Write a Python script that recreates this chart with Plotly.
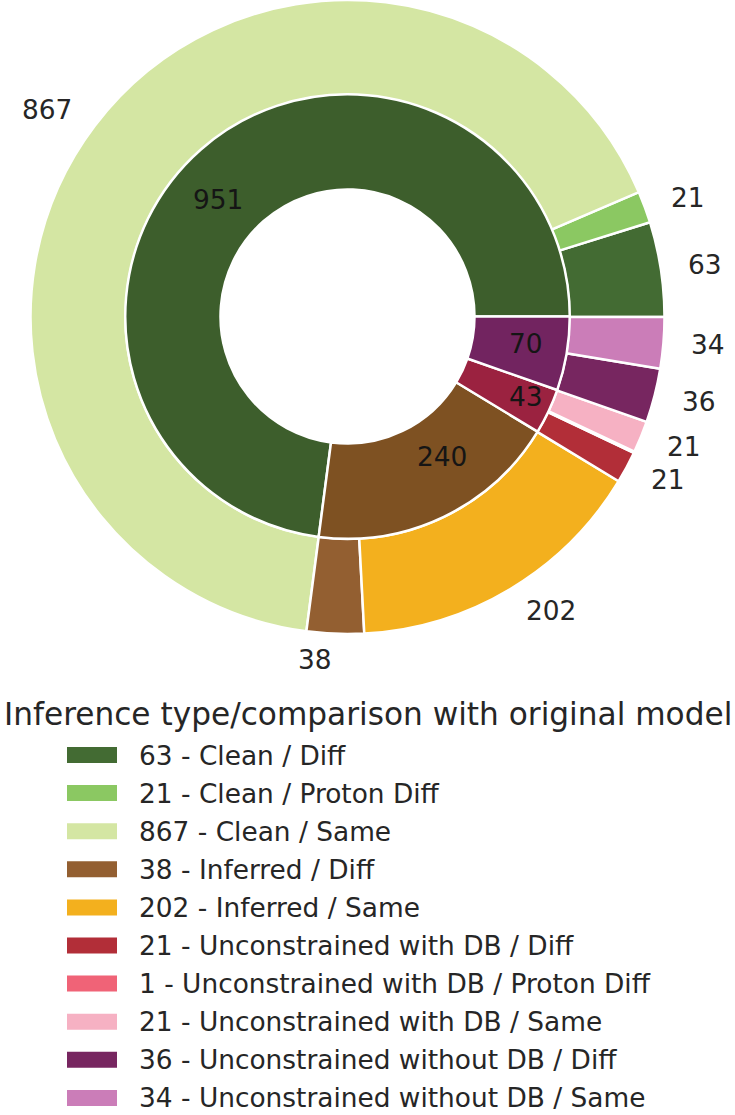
import numpy as np
import plotly.graph_objects as go

# ---- data ----
inner_labels = ["Clean", "Inferred", "Unconstrained with DB", "Unconstrained without DB"]
inner_values = [951, 240, 43, 70]
inner_colors = ["#3d5e2c", "#7e5122", "#9b2240", "#722460"]

outer_labels = ["Clean / Diff", "Clean / Proton Diff", "Clean / Same",
                "Inferred / Diff", "Inferred / Same",
                "Unconstrained with DB / Diff", "Unconstrained with DB / Proton Diff",
                "Unconstrained with DB / Same",
                "Unconstrained without DB / Diff", "Unconstrained without DB / Same"]
outer_values = [63, 21, 867, 38, 202, 21, 1, 21, 36, 34]
outer_colors = ["#436b33", "#8bc862", "#d4e6a3", "#935f31", "#f3b01e",
                "#b22e38", "#f06377", "#f6b1c3", "#772660", "#cb7db8"]
outer_show_label = [True, True, True, True, True, True, False, True, True, True]

legend_title = "Inference type/comparison with original model"

# ---- layout / style (pixels) ----
W, H = 735, 1115
CX, CY = 347.5, 316.5      # centre, from top
R = 317.5
FONT = "DejaVu Sans"
TXT = "#262626"
LABEL_SIZE = 26.4
TITLE_SIZE = 31.2
OUTER_LABEL_DIST = 1.08                        # fraction of R
INNER_LABEL_DIST = [0.49, 0.49, 0.555, 0.51]   # fraction of R, per inner wedge
INNER_LABEL_DY = [0, 0, 5, 0]                  # small vertical nudges (px)


def px(x):
    return x / W


def py(y):
    return 1 - y / H


def dom(r):
    return dict(x=[px(CX - r), px(CX + r)],
                y=[max(0, py(CY + r)), min(1, py(CY - r))])


def start_rotation(values):
    # plotly (counterclockwise) places the first slice clockwise of `rotation`;
    # shift so the first slice starts at 3 o'clock and runs counterclockwise
    return 90 - 360.0 * values[0] / sum(values)


fig = go.Figure()
fig.add_trace(go.Pie(values=outer_values, labels=outer_labels, sort=False,
                     direction="counterclockwise", rotation=start_rotation(outer_values),
                     hole=0.7, domain=dom(R), textinfo="none", hoverinfo="label+value",
                     marker=dict(colors=outer_colors, line=dict(color="white", width=2.5)),
                     showlegend=False))
fig.add_trace(go.Pie(values=inner_values, labels=inner_labels, sort=False,
                     direction="counterclockwise", rotation=start_rotation(inner_values),
                     hole=0.4 / 0.7, domain=dom(0.7 * R), textinfo="none",
                     hoverinfo="label+value",
                     marker=dict(colors=inner_colors, line=dict(color="white", width=2.5)),
                     showlegend=False))

annotations = []


def wedge_labels(values, radii, dys, show, color):
    vals = np.asarray(values, float)
    cum = np.concatenate([[0], np.cumsum(vals)]) / vals.sum() * 2 * np.pi
    mids = (cum[:-1] + cum[1:]) / 2
    for v, a, rr, dy, s in zip(values, mids, radii, dys, show):
        if not s:
            continue
        x = CX + rr * R * np.cos(a)
        y = CY - rr * R * np.sin(a) + dy
        annotations.append(dict(x=px(x), y=py(y), xref="paper", yref="paper",
                                text=str(v), showarrow=False,
                                xanchor="left" if np.cos(a) > 0 else "right",
                                yanchor="middle",
                                font=dict(family=FONT, size=LABEL_SIZE, color=color)))


n_out = len(outer_values)
wedge_labels(outer_values, [OUTER_LABEL_DIST] * n_out, [0] * n_out, outer_show_label, TXT)
wedge_labels(inner_values, INNER_LABEL_DIST, INNER_LABEL_DY,
             [True] * len(inner_values), "#151515")

# ---- legend (drawn below the chart) ----
shapes = []
annotations.append(dict(x=px(W / 2), y=py(714), xref="paper", yref="paper",
                        text=legend_title, showarrow=False, xanchor="center",
                        yanchor="middle",
                        font=dict(family=FONT, size=TITLE_SIZE, color=TXT)))
row0, step = 755.0, 38.1
for i, (lab, v, c) in enumerate(zip(outer_labels, outer_values, outer_colors)):
    yc = row0 + i * step
    shapes.append(dict(type="rect", xref="paper", yref="paper",
                       x0=px(67), x1=px(117), y0=py(yc - 8), y1=py(yc + 8),
                       fillcolor=c, line=dict(width=0)))
    annotations.append(dict(x=px(137), y=py(yc), xref="paper", yref="paper",
                            text=f"{v} - {lab}", showarrow=False, xanchor="left",
                            yanchor="middle",
                            font=dict(family=FONT, size=LABEL_SIZE, color=TXT)))

fig.update_layout(width=W, height=H, margin=dict(l=0, r=0, t=0, b=0),
                  paper_bgcolor="white", plot_bgcolor="white",
                  shapes=shapes, annotations=annotations, showlegend=False)

fig.write_html("out.html")
